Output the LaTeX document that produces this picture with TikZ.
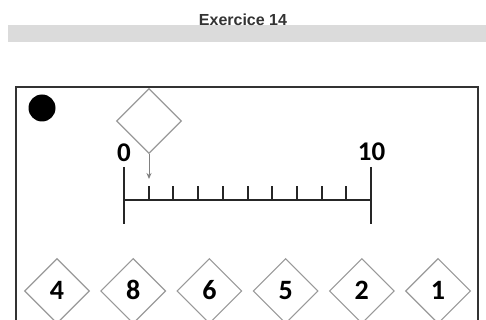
\documentclass[tikz,border=0pt]{standalone}
\usepackage{fontspec}
\setmainfont{Carlito}
\newfontfamily\titlefont{Liberation Sans}
\usetikzlibrary{shapes.geometric, arrows.meta, positioning, calc}

\tikzset{
  card/.style={draw=black!40, line width=1.1pt, diamond, minimum width=65pt,
    minimum height=65pt, inner sep=0pt, text height=17.7pt, text depth=0pt,
    font=\bfseries\fontsize{28}{28}\selectfont},
  axis/.style={line width=2pt, black!85},
  bound/.style={font=\bfseries\fontsize{27}{27}\selectfont}
}

\begin{document}
\begin{tikzpicture}[x=1pt,y=-1pt]
    \useasboundingbox (0,0) rectangle (486,320);
    \clip (0,0) rectangle (486,320);

    % header
    \fill[black!14] (8,25) rectangle (486,42);
    \node[font=\titlefont\bfseries\fontsize{16}{16}\selectfont, text=black!80, anchor=base] (title) at (243,25.5) {Exercice 14};

    % frame and dot
    \draw[line width=2pt, black!80] (16,87) rectangle (478,340);
    \fill (42,108) circle (13.5pt);

    % empty card with pointer
    \node[card] (slot) at (149,121) {};
    \coordinate (pointer) at (149,179);
    \draw[black!50, line width=1pt, -{Stealth[length=6pt,width=5pt]}] (slot.south) -- (pointer);

    % number line
    \coordinate (zero) at (124,200);
    \coordinate (ten) at (371,200);
    \node[bound] (lab0) at (124,152.5) {0};
    \node[bound] (lab10) at (371.5,152) {10};
    \draw[axis] (zero) -- (ten);
    \draw[axis] (zero) ++(0,-33) -- ++(0,57);
    \draw[axis] (ten) ++(0,-33) -- ++(0,57);
    \foreach \k in {1,...,9}
      \draw[axis] ($(zero)!\k/10!(ten)$) -- ++(0,-14);

    % cards to place
    \foreach \v [count=\i from 0] in {4,8,6,5,2,1}
      \node[card] (card\v) at (57+76.2*\i,291) {\v};
\end{tikzpicture}
\end{document}
